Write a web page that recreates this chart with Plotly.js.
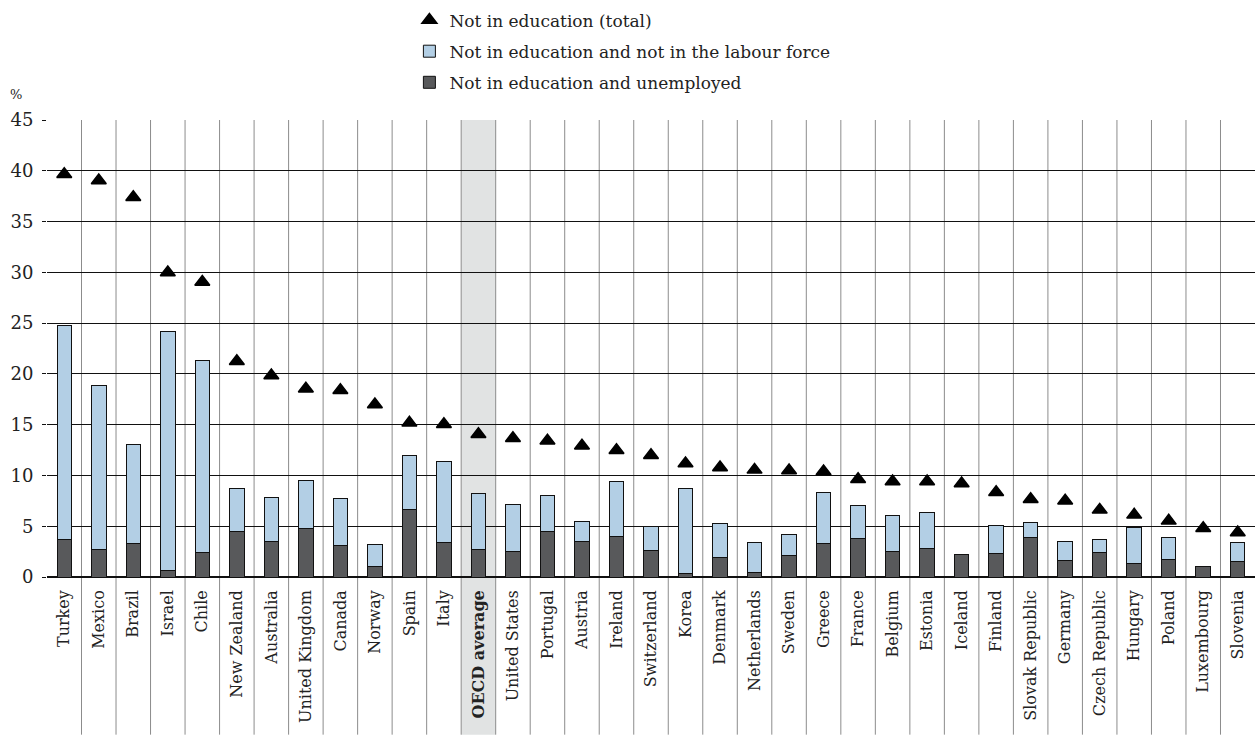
<!DOCTYPE html>
<html>
<head>
<meta charset="utf-8">
<script src="https://cdn.plot.ly/plotly-3.0.1.min.js"></script>
<style>html,body{margin:0;padding:0;background:#fff;}#chart{width:1256px;height:738px;}</style>
</head>
<body>
<div id="chart"></div>
<script>
var countries = ["Turkey","Mexico","Brazil","Israel","Chile","New Zealand","Australia","United Kingdom","Canada","Norway","Spain","Italy","OECD average","United States","Portugal","Austria","Ireland","Switzerland","Korea","Denmark","Netherlands","Sweden","Greece","France","Belgium","Estonia","Iceland","Finland","Slovak Republic","Germany","Czech Republic","Hungary","Poland","Luxembourg","Slovenia"];
var unemployed = [3.74,2.70,3.28,0.66,2.43,4.50,3.50,4.80,3.15,1.08,6.63,3.42,2.69,2.56,4.50,3.48,4.00,2.60,0.36,1.94,0.46,2.07,3.25,3.77,2.53,2.82,2.26,2.33,3.87,1.61,2.43,1.35,1.74,1.02,1.51];
var inactive = [21.01,16.15,9.79,23.54,18.90,4.17,4.35,4.72,4.60,2.14,5.32,7.97,5.51,4.56,3.50,1.97,5.45,2.36,8.34,3.34,2.96,2.10,5.05,3.25,3.54,3.58,null,2.73,1.48,1.87,1.28,3.48,2.17,null,1.87];
var totalNotInEducation = [39.65,39.05,37.40,29.98,29.05,21.25,19.85,18.53,18.40,16.98,15.18,15.05,14.05,13.67,13.41,12.92,12.49,11.99,11.17,10.78,10.55,10.48,10.39,9.63,9.40,9.40,9.20,8.35,7.66,7.50,6.61,6.12,5.53,4.81,4.38];
var legendNames = ["Not in education (total)","Not in education and not in the labour force","Not in education and unemployed"];
var highlight = "OECD average";

var serif = "DejaVu Serif, serif";
var idx = countries.map(function(c,i){return i;});
var ticktext = countries.map(function(c){return c===highlight ? "<b>"+c+"</b>" : c;});
var hi = countries.indexOf(highlight);

var traces = [
  {type:"bar", x:idx, y:unemployed, name:legendNames[2], legendrank:3, legendgroup:"g3",
   marker:{color:"#58595b", line:{color:"#111", width:1}}, width:0.42},
  {type:"bar", x:idx, y:inactive, name:legendNames[1], legendrank:2, legendgroup:"g2",
   marker:{color:"#b3cfe5", line:{color:"#111", width:1}}, width:0.42},
  {type:"scatter", mode:"markers", x:idx, y:totalNotInEducation, name:legendNames[0], legendrank:1, legendgroup:"g1",
   marker:{symbol:"triangle-up", size:13, color:"#000", line:{color:"#000", width:1.5}}}
];

var shapes = [{type:"rect", xref:"x", yref:"paper", x0:hi-0.5, x1:hi+0.5, y0:-0.345, y1:1, fillcolor:"#e1e3e3", line:{width:0}, layer:"below"}];
for (var i=0;i<countries.length-1;i++){
  shapes.push({type:"line", xref:"x", yref:"paper", x0:i+0.5, x1:i+0.5, y0:-0.345, y1:1, line:{color:"#8c8c8c", width:1}, layer:"between"});
}

var layout = {
  width:1256, height:738,
  margin:{l:47, r:1, t:120, b:161},
  paper_bgcolor:"#fff", plot_bgcolor:"rgba(0,0,0,0)",
  barmode:"stack", showlegend:true,
  font:{family:serif, color:"#222"},
  legend:{x:0.300, xanchor:"left", y:1.257, yanchor:"top", traceorder:"grouped", tracegroupgap:6,
          font:{family:serif, size:17, color:"#222"}, bgcolor:"rgba(0,0,0,0)"},
  xaxis:{range:[-0.5, countries.length-0.5], tickmode:"array", tickvals:idx, ticktext:ticktext,
         tickangle:-90, tickfont:{family:serif, size:16, color:"#222"}, showgrid:false, zeroline:false,
         showline:false, ticks:"", ticklabelstandoff:9, fixedrange:true},
  yaxis:{range:[0,45], dtick:5, tick0:0, showgrid:true, gridcolor:"#111", gridwidth:1,
         ticks:"outside", ticklen:4, tickcolor:"#111", ticklabelstandoff:5, tickfont:{family:serif, size:18, color:"#222"},
         zeroline:true, zerolinecolor:"#111", zerolinewidth:1.5, showline:false, fixedrange:true},
  shapes:shapes,
  annotations:[{text:"%", xref:"paper", yref:"paper", x:-0.026, y:1.035, xanchor:"center", yanchor:"bottom", showarrow:false, font:{family:serif, size:13, color:"#222"}}]
};
Plotly.newPlot("chart", traces, layout, {displayModeBar:false, staticPlot:true});
</script>
</body>
</html>
